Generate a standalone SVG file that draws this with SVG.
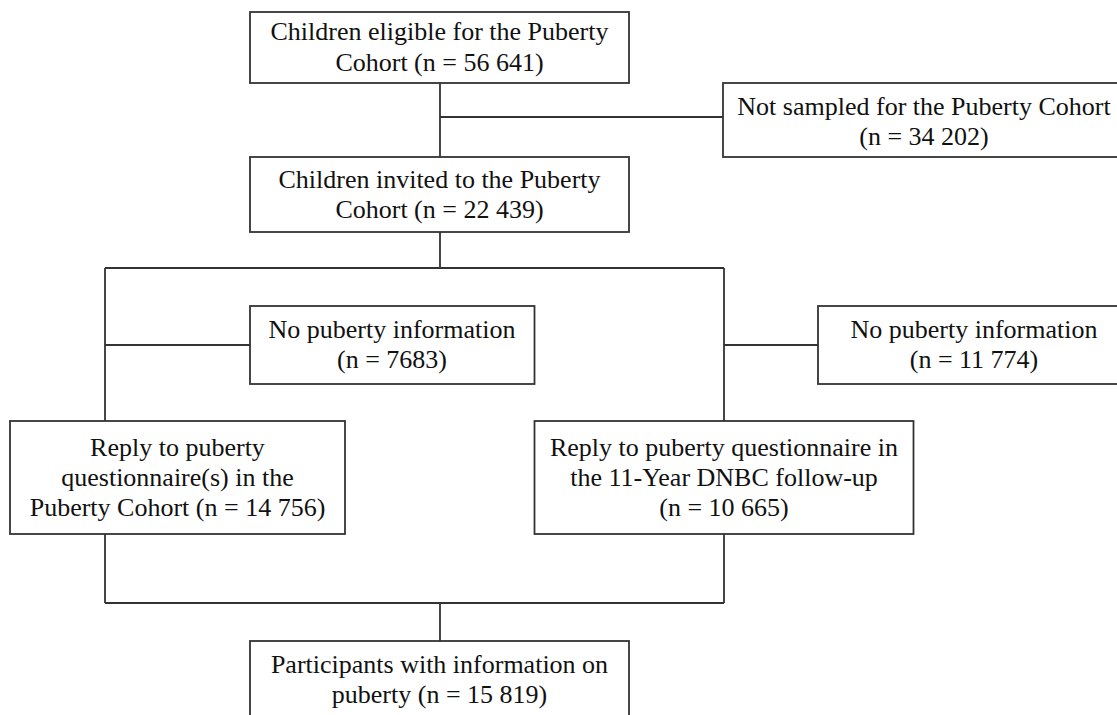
<svg xmlns="http://www.w3.org/2000/svg" width="1117" height="715" viewBox="0 0 1117 715">
<style>
.box{fill:#fff;stroke:#333;stroke-width:1.8}
.ln{fill:none;stroke:#333;stroke-width:1.8}
text{font-family:"Liberation Serif","Times New Roman",serif;font-size:26px;fill:#111;text-anchor:middle}
</style>
<rect width="1117" height="715" fill="#fff"/>
<g id="connectors">
<path class="ln" d="M440,83 V157 M440,117 H723 M440,232 V268 M105,268 H724 M105,268 V421 M105,345 H250 M724,268 V421 M724,345 H818 M105,534 V603 M724,534 V603 M105,603 H724 M440,603 V641"/>
</g>
<g id="eligible">
<rect class="box" x="250" y="12" width="379" height="71"/>
<text x="439.5" y="40">Children eligible for the Puberty</text>
<text x="439.5" y="71">Cohort (n = 56 641)</text>
</g>
<g id="not-sampled">
<rect class="box" x="723" y="83" width="402" height="74"/>
<text x="924" y="115">Not sampled for the Puberty Cohort</text>
<text x="924" y="145">(n = 34 202)</text>
</g>
<g id="invited">
<rect class="box" x="250" y="157" width="379" height="75"/>
<text x="439.5" y="188">Children invited to the Puberty</text>
<text x="439.5" y="218">Cohort (n = 22 439)</text>
</g>
<g id="no-info-left">
<rect class="box" x="250" y="306" width="284.5" height="78"/>
<text x="392" y="338">No puberty information</text>
<text x="392" y="368">(n = 7683)</text>
</g>
<g id="no-info-right">
<rect class="box" x="818" y="306" width="312" height="78"/>
<text x="974" y="338">No puberty information</text>
<text x="974" y="368">(n = 11 774)</text>
</g>
<g id="reply-cohort">
<rect class="box" x="10" y="421" width="335" height="113"/>
<text x="177.5" y="456">Reply to puberty</text>
<text x="177.5" y="486">questionnaire(s) in the</text>
<text x="177.5" y="516">Puberty Cohort (n = 14 756)</text>
</g>
<g id="reply-dnbc">
<rect class="box" x="534.5" y="421" width="379" height="113"/>
<text x="724" y="456">Reply to puberty questionnaire in</text>
<text x="724" y="486">the 11-Year DNBC follow-up</text>
<text x="724" y="516">(n = 10 665)</text>
</g>
<g id="participants">
<rect class="box" x="250" y="641" width="379" height="76"/>
<text x="439.5" y="673">Participants with information on</text>
<text x="439.5" y="703">puberty (n = 15 819)</text>
</g>
</svg>
